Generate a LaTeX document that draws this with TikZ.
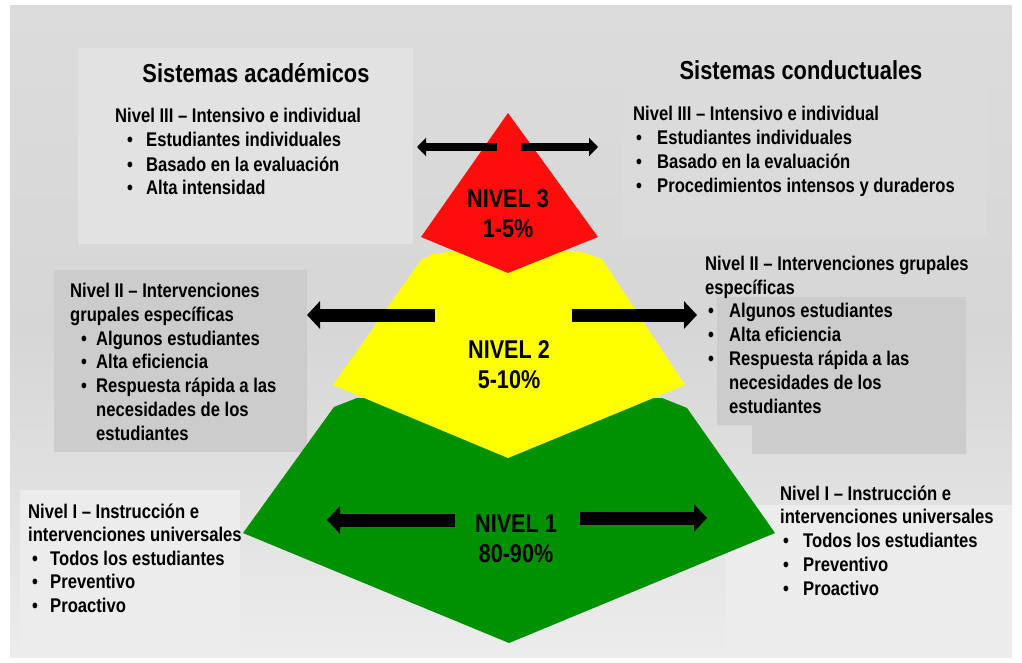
\documentclass[tikz,border=0pt]{standalone}
\usepackage{fontspec}
\setmainfont[FakeStretch=0.84]{Liberation Sans}
\usetikzlibrary{arrows.meta}
\definecolor{pyrred}{RGB}{255,12,12}
\definecolor{pyryellow}{RGB}{255,255,0}
\definecolor{pyrgreen}{RGB}{0,145,0}
\definecolor{bgtop}{RGB}{220,220,220}
\definecolor{bgmid}{RGB}{214,214,214}
\definecolor{bgbot}{RGB}{236,236,236}
\definecolor{boxlight}{RGB}{226,226,226}
\definecolor{boxdark}{RGB}{204,204,204}
\definecolor{boxpale}{RGB}{236,236,236}
\newcommand{\bul}[2]{\makebox[#2][l]{\hspace{#1}\textbullet}}
\newcommand{\cont}[1]{\makebox[#1]{}}
\begin{document}
\begin{tikzpicture}[x=1pt,y=-1pt,
  txt/.style={inner sep=0pt, align=left, text=black, font=\bfseries\fontsize{19.8}{#1}\selectfont},
  txt/.default=24,
  ttl/.style={inner sep=0pt, text=black, font=\bfseries\fontsize{26}{30}\selectfont},
  lvl/.style={inner sep=0pt, align=center, text=black, font=\bfseries\fontsize{25.7}{30}\selectfont},
  arrthin/.style={line width=8pt, -{Triangle[length=9pt,width=18pt]}},
  arrthick/.style={line width=13pt, -{Triangle[length=13pt,width=27pt]}}]
\useasboundingbox (0,0) rectangle (1022,663);
\fill[white] (0,0) rectangle (1022,663);
\shade[top color=bgtop, bottom color=bgbot, middle color=bgmid] (10,6) rectangle (1012,657);
% panels
\fill[boxlight] (78,48) rectangle (413,244);
\fill[boxlight!97!black] (622,43) rectangle (987,237);
\fill[boxdark] (54,270) rectangle (307,452);
\fill[boxdark] (717,297) -- (966,297) -- (966,454) -- (752,454) -- (752,425) -- (717,425) -- cycle;
\fill[boxpale] (20,490) rectangle (240,657);
\fill[boxpale] (725,505) rectangle (1012,657);
% pyramid
\fill[pyrgreen] (334,407) -- (357,398) -- (662,398) -- (687,408) -- (775,533) -- (509,643) -- (243,533) -- cycle;
\fill[pyryellow] (333,385) -- (421,260) -- (433,254) -- (508,245) -- (582,252) -- (602,259) -- (685,385) -- (508,458) -- cycle;
\fill[pyrred] (508,113) -- (598,237) -- (508,273) -- (421,237) -- cycle;
% titles
\node[ttl, anchor=base] (tA) at (256,83) {Sistemas académicos};
\node[ttl, anchor=base] (tC) at (801,80) {Sistemas conductuales};
% texts (anchor = baseline of the last line)
\node[txt, anchor=base west] (A3) at (115,195) {Nivel III – Intensivo e individual\\
\bul{12pt}{31pt}Estudiantes individuales\\
\bul{12pt}{31pt}Basado en la evaluación\\
\bul{12pt}{31pt}Alta intensidad};
\node[txt=24.3, anchor=base west] (C3) at (633,193) {Nivel III – Intensivo e individual\\
\bul{3pt}{24pt}Estudiantes individuales\\
\bul{3pt}{24pt}Basado en la evaluación\\
\bul{3pt}{24pt}Procedimientos intensos y duraderos};
\node[txt=23.7, anchor=base west] (A2) at (70,440) {Nivel II – Intervenciones\\
grupales específicas\\
\bul{11pt}{26pt}Algunos estudiantes\\
\bul{11pt}{26pt}Alta eficiencia\\
\bul{11pt}{26pt}Respuesta rápida a las\\
\cont{26pt}necesidades de los\\
\cont{26pt}estudiantes};
\node[txt=23.8, anchor=base west] (C2) at (705,413) {Nivel II – Intervenciones grupales\\
específicas\\
\bul{3pt}{24pt}Algunos estudiantes\\
\bul{3pt}{24pt}Alta eficiencia\\
\bul{3pt}{24pt}Respuesta rápida a las\\
\cont{24pt}necesidades de los\\
\cont{24pt}estudiantes};
\node[txt=23.5, anchor=base west] (A1) at (28,612) {Nivel I – Instrucción e\\
intervenciones universales\\
\bul{4pt}{22pt}Todos los estudiantes\\
\bul{4pt}{22pt}Preventivo\\
\bul{4pt}{22pt}Proactivo};
\node[txt=23.7, anchor=base west] (C1) at (780,595) {Nivel I – Instrucción e\\
intervenciones universales\\
\bul{3pt}{23pt}Todos los estudiantes\\
\bul{3pt}{23pt}Preventivo\\
\bul{3pt}{23pt}Proactivo};
% level labels
\node[lvl, anchor=base] (L3) at (508,237) {NIVEL 3\\1-5\%};
\node[lvl, anchor=base] (L2) at (509,388) {NIVEL 2\\5-10\%};
\node[lvl, anchor=base] (L1) at (516,562) {NIVEL 1\\80-90\%};
% arrows
\coordinate (a3ls) at (497,147); \coordinate (a3le) at (417,147);
\coordinate (a3rs) at (521,147); \coordinate (a3re) at (598,147);
\coordinate (a2ls) at (435,315); \coordinate (a2le) at (307,315);
\coordinate (a2rs) at (572,315); \coordinate (a2re) at (697,315);
\coordinate (a1ls) at (455,520); \coordinate (a1le) at (327,520);
\coordinate (a1rs) at (580,518); \coordinate (a1re) at (707,518);
\draw[arrthin] (a3ls) -- (a3le);
\draw[arrthin] (a3rs) -- (a3re);
\draw[arrthick] (a2ls) -- (a2le);
\draw[arrthick] (a2rs) -- (a2re);
\draw[arrthick] (a1ls) -- (a1le);
\draw[arrthick] (a1rs) -- (a1re);
\end{tikzpicture}
\end{document}
